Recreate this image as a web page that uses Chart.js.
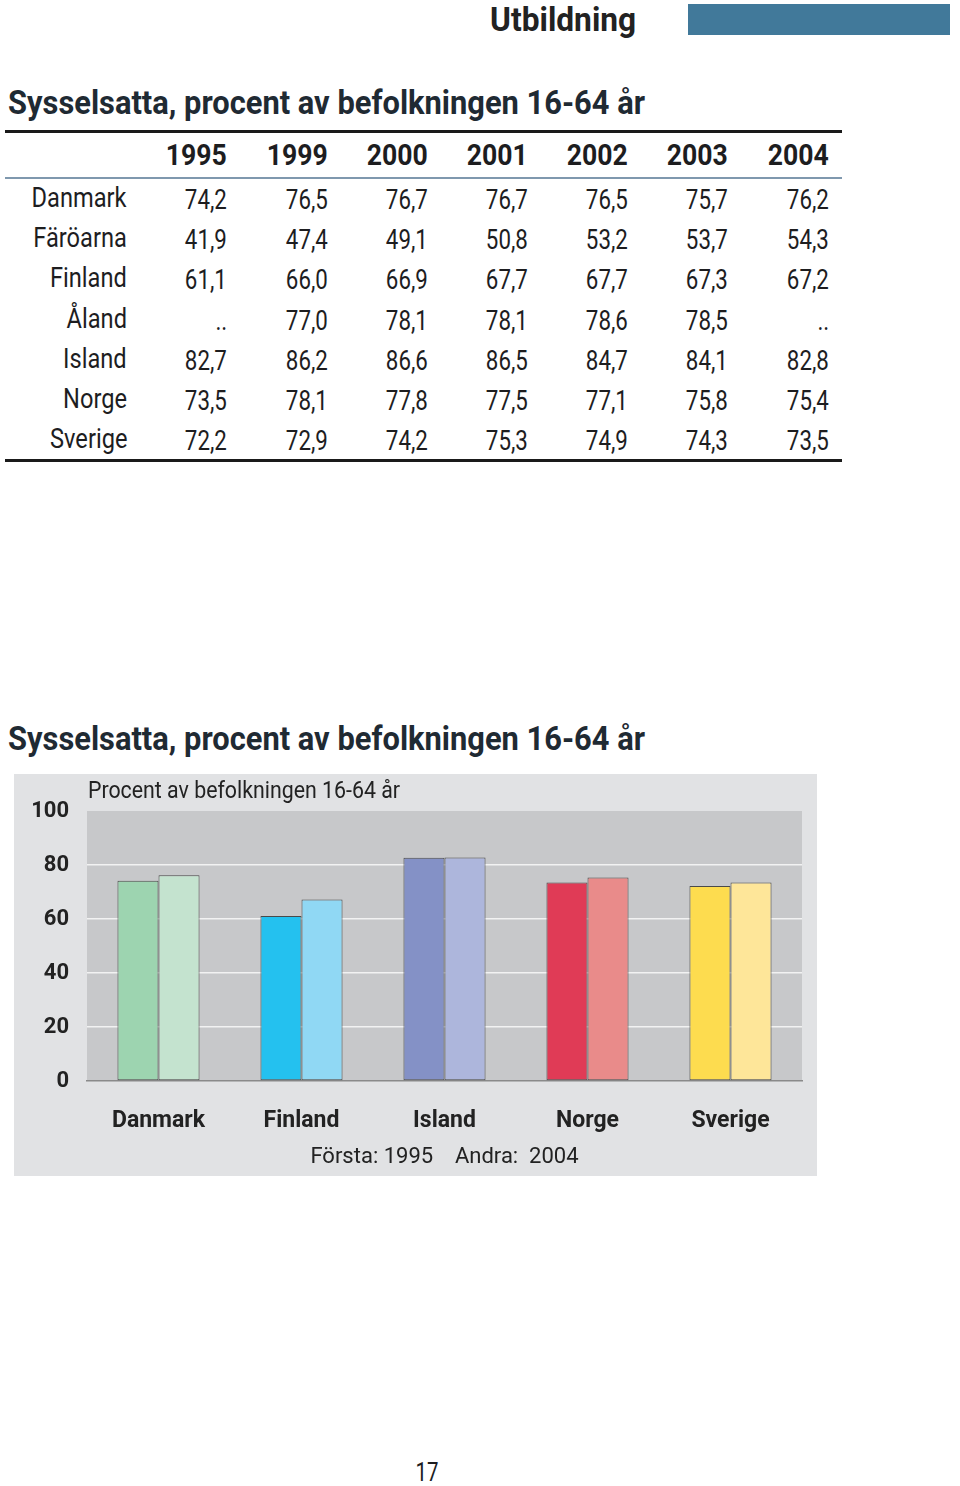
<!DOCTYPE html>
<html>
<head>
<meta charset="utf-8">
<script src="https://cdn.jsdelivr.net/npm/chart.js@4.4.1/dist/chart.umd.min.js"></script>
<style>
    body { margin: 0; width: 960px; height: 1486px; background: #fff; position: relative;
        font-family: Roboto, "Liberation Sans", sans-serif; color: #1d1d1f; overflow: hidden; }
    .abs { position: absolute; white-space: nowrap; }
    .fit { display: inline-block; }
    #pageTitle { right: 324px; top: 0; font-size: 33px; font-weight: bold; line-height: 40px; color: #222; }
    #pageBar { left: 688px; top: 4px; width: 262px; height: 31px; background: #41799a; }
    .heading { left: 8px; font-size: 33px; font-weight: bold; line-height: 40px; color: #1f2a33; }
    .rule { left: 5px; width: 837px; }
    .cell { font-size: 27px; line-height: 40px; text-align: right; }
    .hcell { font-size: 30px; font-weight: bold; line-height: 40px; text-align: right; }
    #chartBox { left: 14px; top: 774px; width: 803px; height: 402px; background: #e1e2e4; }
    #pageNo { left: 400px; width: 54px; text-align: center; top: 1458px; font-size: 25px; line-height: 30px; }
</style>
</head>
<body>
<div id="pageTitle" class="abs"><span class="fit" data-w="146" data-o="right">Utbildning</span></div>
<div id="pageBar" class="abs"></div>
<div class="abs heading" style="top:83px"><span class="fit" data-w="637" data-o="left">Sysselsatta, procent av befolkningen 16-64 år</span></div>
<div class="abs rule" style="top:130px;height:3px;background:#1a1a1a"></div>
<div class="abs rule" style="top:177px;height:2px;background:#7f98ae"></div>
<div class="abs rule" style="top:459px;height:3px;background:#1a1a1a"></div>
<div id="table"></div>
<div class="abs heading" style="top:719px"><span class="fit" data-w="637" data-o="left">Sysselsatta, procent av befolkningen 16-64 år</span></div>
<div id="chartBox" class="abs"><canvas id="employmentChart"></canvas></div>
<div id="pageNo" class="abs"><span class="fit" data-w="23" data-o="center">17</span></div>

<script>
    // table data
    const years = ['1995', '1999', '2000', '2001', '2002', '2003', '2004'];
    const tableCountries = ['Danmark', 'Färöarna', 'Finland', 'Åland', 'Island', 'Norge', 'Sverige'];
    const tableValues = [
        ['74,2', '76,5', '76,7', '76,7', '76,5', '75,7', '76,2'],
        ['41,9', '47,4', '49,1', '50,8', '53,2', '53,7', '54,3'],
        ['61,1', '66,0', '66,9', '67,7', '67,7', '67,3', '67,2'],
        ['..', '77,0', '78,1', '78,1', '78,6', '78,5', '..'],
        ['82,7', '86,2', '86,6', '86,5', '84,7', '84,1', '82,8'],
        ['73,5', '78,1', '77,8', '77,5', '77,1', '75,8', '75,4'],
        ['72,2', '72,9', '74,2', '75,3', '74,9', '74,3', '73,5']
    ];

    // chart data
    const chartCountries = ['Danmark', 'Finland', 'Island', 'Norge', 'Sverige'];
    const values1995 = [74.2, 61.1, 82.7, 73.5, 72.2];
    const values2004 = [76.2, 67.2, 82.8, 75.4, 73.5];
    const colors1995 = ['#9dd4b0', '#24c1ef', '#8491c6', '#e03b56', '#fddc4f'];
    const colors2004 = ['#c4e3cf', '#90d8f4', '#adb6dc', '#e98b8a', '#fee699'];

    const fam = 'Roboto, "Liberation Sans", sans-serif';

    // squeeze text horizontally so it matches the condensed face of the original
    function squeeze(el, factor, origin) {
        el.style.display = 'inline-block';
        el.style.transformOrigin = origin + ' center';
        el.style.transform = 'scaleX(' + factor + ')';
    }

    function makeCell(cls, left, width, top, text) {
        const d = document.createElement('div');
        d.className = 'abs ' + cls;
        d.style.left = left + 'px';
        d.style.width = width + 'px';
        d.style.top = top + 'px';
        const s = document.createElement('span');
        s.innerText = text;
        d.appendChild(s);
        document.getElementById('table').appendChild(d);
        return s;
    }

    function buildTable() {
        const colRight = [227, 328, 428, 528, 628, 728, 829];
        const headSpans = [], valSpans = [], labSpans = [];
        years.forEach((y, i) => {
            headSpans.push(makeCell('hcell', colRight[i] - 100, 100, 135, y));
        });
        tableCountries.forEach((c, r) => {
            const top = 179 + r * 40.2;
            labSpans.push(makeCell('cell', 0, 127, top - 1, c));
            tableValues[r].forEach((v, i) => {
                valSpans.push(makeCell('cell', colRight[i] - 100, 100, top + 1, v));
            });
        });
        const fh = 61 / headSpans[0].getBoundingClientRect().width;
        const fv = 42 / valSpans[0].getBoundingClientRect().width;
        const fl = 95 / labSpans[0].getBoundingClientRect().width;
        headSpans.forEach(s => squeeze(s, fh, 'right'));
        valSpans.forEach(s => squeeze(s, fv, 'right'));
        labSpans.forEach(s => squeeze(s, fl, 'right'));
    }

    function fitTexts() {
        document.querySelectorAll('.fit').forEach(el => {
            const w = el.getBoundingClientRect().width;
            squeeze(el, Number(el.dataset.w) / w, el.dataset.o);
        });
    }

    const plotBackground = {
        id: 'plotBackground',
        beforeDraw(chart) {
            const { ctx, chartArea } = chart;
            ctx.save();
            ctx.fillStyle = '#c7c8ca';
            ctx.fillRect(chartArea.left, chartArea.top, chartArea.right - chartArea.left, chartArea.bottom - chartArea.top);
            ctx.restore();
        },
        afterDraw(chart) {
            // caption inside the panel, above the plot
            const { ctx, chartArea } = chart;
            const text = 'Procent av befolkningen 16-64 år';
            ctx.save();
            ctx.font = '24px ' + fam;
            ctx.fillStyle = '#222';
            ctx.textBaseline = 'middle';
            const k = 312 / ctx.measureText(text).width;
            ctx.translate(chartArea.left + 1, chartArea.top - 19);
            ctx.scale(k, 1);
            ctx.fillText(text, 0, 0);
            ctx.restore();
        }
    };

    function renderChart() {
        const ctx = document.getElementById('employmentChart').getContext('2d');

        new Chart(ctx, {
            type: 'bar',
            data: {
                labels: chartCountries,
                datasets: [{
                    label: '1995',
                    data: values1995,
                    backgroundColor: colors1995,
                    borderColor: '#4a4a4a',
                    borderWidth: 1,
                    borderSkipped: false
                }, {
                    label: '2004',
                    data: values2004,
                    backgroundColor: colors2004,
                    borderColor: '#4a4a4a',
                    borderWidth: 1,
                    borderSkipped: false
                }]
            },
            options: {
                responsive: false,
                animation: false,
                layout: { padding: { top: 37, right: 15, left: 0, bottom: 0 } },
                datasets: { bar: { categoryPercentage: 0.574, barPercentage: 1 } },
                plugins: {
                    legend: { display: false },
                    tooltip: { enabled: false }
                },
                scales: {
                    x: {
                        grid: { display: false },
                        border: { display: true, color: '#8a8a8a', width: 1.5 },
                        ticks: { color: '#222', font: { family: fam, size: 23, weight: 'bold' }, padding: 18 },
                        title: {
                            display: true,
                            text: 'Första: 1995    Andra:  2004',
                            color: '#222',
                            font: { family: fam, size: 22 },
                            padding: { top: 5, bottom: 5 }
                        },
                        afterFit(scale) { scale.height = 95; }
                    },
                    y: {
                        min: 0,
                        max: 100,
                        ticks: { stepSize: 20, color: '#222', font: { family: fam, size: 22, weight: 'bold' }, padding: 18 },
                        grid: {
                            drawTicks: false,
                            lineWidth: 1.5,
                            color: (c) => (c.tick && (c.tick.value === 0 || c.tick.value === 100)) ? 'rgba(0,0,0,0)' : '#f2f2f2'
                        },
                        border: { display: false },
                        afterFit(scale) { scale.width = 73; }
                    }
                }
            },
            plugins: [plotBackground]
        });
    }

    buildTable();
    fitTexts();
    const cv = document.getElementById('employmentChart');
    cv.width = 803;
    cv.height = 402;
    renderChart();
</script>
</body>
</html>
